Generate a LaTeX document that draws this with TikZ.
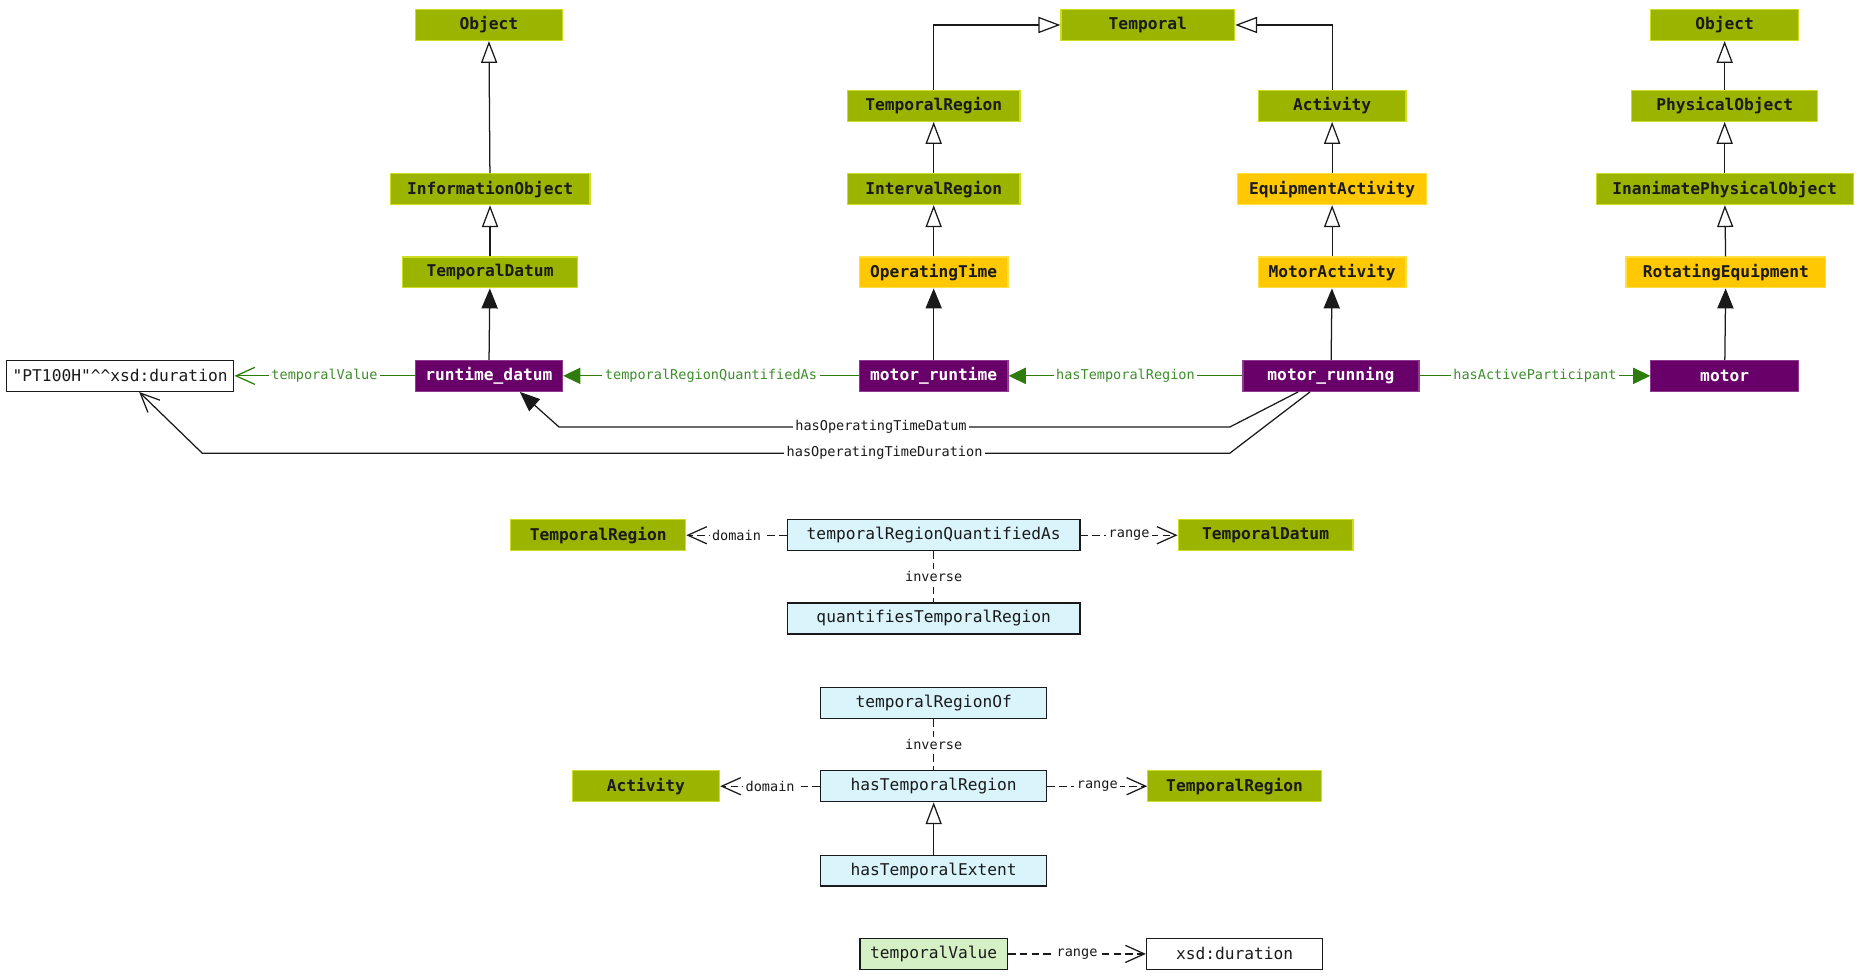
\documentclass[tikz,border=0pt]{standalone}
\usepackage{fontspec}
\setmonofont{DejaVu Sans Mono}
\usetikzlibrary{arrows.meta}
\definecolor{classgreen}{HTML}{9AB400}
\definecolor{classrim}{HTML}{D0DC20}
\definecolor{subyellow}{HTML}{FFC800}
\definecolor{yellowrim}{HTML}{FFE040}
\definecolor{instpurple}{HTML}{690069}
\definecolor{instrim}{HTML}{8E3C8E}
\definecolor{propblue}{HTML}{DAF4FC}
\definecolor{datagreen}{HTML}{D4F0C4}
\definecolor{linkgreen}{HTML}{2E7D0C}
\definecolor{labelgreen}{HTML}{3E8E2C}
\definecolor{inktext}{HTML}{1A1A1A}

\begin{document}
\begin{tikzpicture}[x=0.025cm, y=-0.025cm,
    box/.style={minimum height=0.65cm, inner sep=0pt, text=inktext,
      font=\ttfamily\fontsize{9.7}{11}\selectfont},
    cls/.style={box, fill=classgreen, draw=classrim, line width=0.7pt,
      font=\ttfamily\bfseries\fontsize{9.7}{11}\selectfont},
    sub/.style={cls, fill=subyellow, draw=yellowrim},
    inst/.style={cls, fill=instpurple, draw=instrim, text=white},
    prop/.style={box, fill=propblue, draw=inktext, line width=0.8pt},
    dprop/.style={box, fill=datagreen, draw=inktext, line width=0.8pt},
    lit/.style={box, fill=white, draw=inktext, line width=0.8pt},
    elabel/.style={fill=white, inner sep=1.5pt, text=inktext,
      font=\ttfamily\fontsize{8.1}{9}\selectfont},
    glabel/.style={elabel, text=labelgreen},
    isa/.style={draw=inktext, line width=0.75pt, -{Triangle[open, length=4.6mm, width=3.4mm]}},
    typed/.style={draw=inktext, line width=0.75pt, -{Triangle[length=4.2mm, width=3.4mm]}},
    rel/.style={draw=linkgreen, line width=0.75pt, -{Triangle[length=3.6mm, width=3.4mm]}},
    attr/.style={draw=linkgreen, line width=0.75pt, -{Straight Barb[length=4mm, width=3.6mm]}},
    axiom/.style={draw=inktext, line width=0.75pt, dash pattern=on 4.5pt off 2.5pt,
      -{Straight Barb[length=4mm, width=3.6mm]}}]
  \useasboundingbox (0,0) rectangle (1568,823);

  % class tree
  \node[cls, minimum width=3.1cm] (object) at (411,21) {Object};
  \node[cls, minimum width=4.2cm] (infoobject) at (412,159) {InformationObject};
  \node[cls, minimum width=3.675cm] (tdatum) at (412,229) {TemporalDatum};
  \node[cls, minimum width=3.65cm] (temporal) at (965,21) {Temporal};
  \node[cls, minimum width=3.625cm] (tregion) at (785,89) {TemporalRegion};
  \node[cls, minimum width=3.625cm] (iregion) at (785,159) {IntervalRegion};
  \node[sub, minimum width=3.125cm] (optime) at (785,229) {OperatingTime};
  \node[cls, minimum width=3.1cm] (activity) at (1120,89) {Activity};
  \node[sub, minimum width=3.975cm] (eqactivity) at (1120,159) {EquipmentActivity};
  \node[sub, minimum width=3.1cm] (motoractivity) at (1120,229) {MotorActivity};
  \node[cls, minimum width=3.1cm] (object2) at (1450,21) {Object};
  \node[cls, minimum width=3.9cm] (physobject) at (1450,89) {PhysicalObject};
  \node[cls, minimum width=5.4cm] (inanimate) at (1450,159) {InanimatePhysicalObject};
  \node[sub, minimum width=4.2cm] (rotating) at (1451,229) {RotatingEquipment};

  \draw[isa] (infoobject) -- (object);
  \draw[isa] (tdatum) -- (infoobject);
  \draw[isa] (tregion.north) |- (temporal.west);
  \draw[isa] (activity.north) |- (temporal.east);
  \draw[isa] (iregion) -- (tregion);
  \draw[isa] (optime) -- (iregion);
  \draw[isa] (eqactivity) -- (activity);
  \draw[isa] (motoractivity) -- (eqactivity);
  \draw[isa] (physobject) -- (object2);
  \draw[isa] (inanimate) -- (physobject);
  \draw[isa] (rotating) -- (inanimate);

  % individuals
  \node[lit, minimum width=4.775cm] (duration) at (101,316) {"PT100H"\^{}\^{}xsd:duration};
  \node[inst, minimum width=3.1cm] (rdatum) at (411,316) {runtime\_datum};
  \node[inst, minimum width=3.125cm] (mruntime) at (785,316) {motor\_runtime};
  \node[inst, minimum width=3.7cm] (mrunning) at (1119,316) {motor\_running};
  \node[inst, minimum width=3.1cm] (motor) at (1450,316) {motor};

  \draw[typed] (rdatum) -- (tdatum);
  \draw[typed] (mruntime) -- (optime);
  \draw[typed] (mrunning) -- (motoractivity);
  \draw[typed] (motor) -- (rotating);

  \draw[attr] (rdatum) -- node[glabel] {temporalValue} (duration);
  \draw[rel] (mruntime) -- node[glabel] {temporalRegionQuantifiedAs} (rdatum);
  \draw[rel] (mrunning) -- node[glabel] {hasTemporalRegion} (mruntime);
  \draw[rel] (mrunning) -- node[glabel] {hasActiveParticipant} (motor);

  \draw[typed] ([xshift=-0.69cm]mrunning.south) -- (1034,359)
    -- node[elabel, pos=0.52] {hasOperatingTimeDatum} (470,359) -- ([xshift=0.65cm]rdatum.south);
  \draw[draw=inktext, line width=0.75pt, -{Straight Barb[length=4mm, width=3.6mm]}]
    ([xshift=-0.44cm]mrunning.south) -- (1034,381)
    -- node[elabel, pos=0.336] {hasOperatingTimeDuration} (170,381) -- ([xshift=0.4cm]duration.south);

  % temporalRegionQuantifiedAs
  \node[cls, minimum width=3.675cm] (qdomain) at (503,450) {TemporalRegion};
  \node[prop, minimum width=6.15cm] (quantified) at (785,450) {temporalRegionQuantifiedAs};
  \node[cls, minimum width=3.675cm] (qrange) at (1064,450) {TemporalDatum};
  \node[prop, minimum width=6.15cm] (quantifies) at (785,520) {quantifiesTemporalRegion};

  \draw[axiom] (quantified) -- node[elabel] {domain} (qdomain);
  \draw[axiom] (quantified) -- node[elabel] {range} (qrange);
  \draw[draw=inktext, line width=0.75pt, dash pattern=on 4.5pt off 2.5pt]
    (quantified) -- node[elabel] {inverse} (quantifies);

  % hasTemporalRegion
  \node[prop, minimum width=4.75cm] (regionof) at (785,591) {temporalRegionOf};
  \node[prop, minimum width=4.75cm] (hasregion) at (785,661) {hasTemporalRegion};
  \node[cls, minimum width=3.1cm] (hdomain) at (543,661) {Activity};
  \node[cls, minimum width=3.65cm] (hrange) at (1038,661) {TemporalRegion};
  \node[prop, minimum width=4.75cm] (extent) at (785,732) {hasTemporalExtent};

  \draw[draw=inktext, line width=0.75pt, dash pattern=on 4.5pt off 2.5pt]
    (regionof) -- node[elabel] {inverse} (hasregion);
  \draw[axiom] (hasregion) -- node[elabel] {domain} (hdomain);
  \draw[axiom] (hasregion) -- node[elabel] {range} (hrange);
  \draw[isa] (extent) -- (hasregion);

  % temporalValue
  \node[dprop, minimum width=3.1cm] (tvalue) at (785,802) {temporalValue};
  \node[lit, minimum width=3.7cm] (xsdduration) at (1038,802) {xsd:duration};
  \draw[axiom] (tvalue) -- node[elabel] {range} (xsdduration);
\end{tikzpicture}
\end{document}
